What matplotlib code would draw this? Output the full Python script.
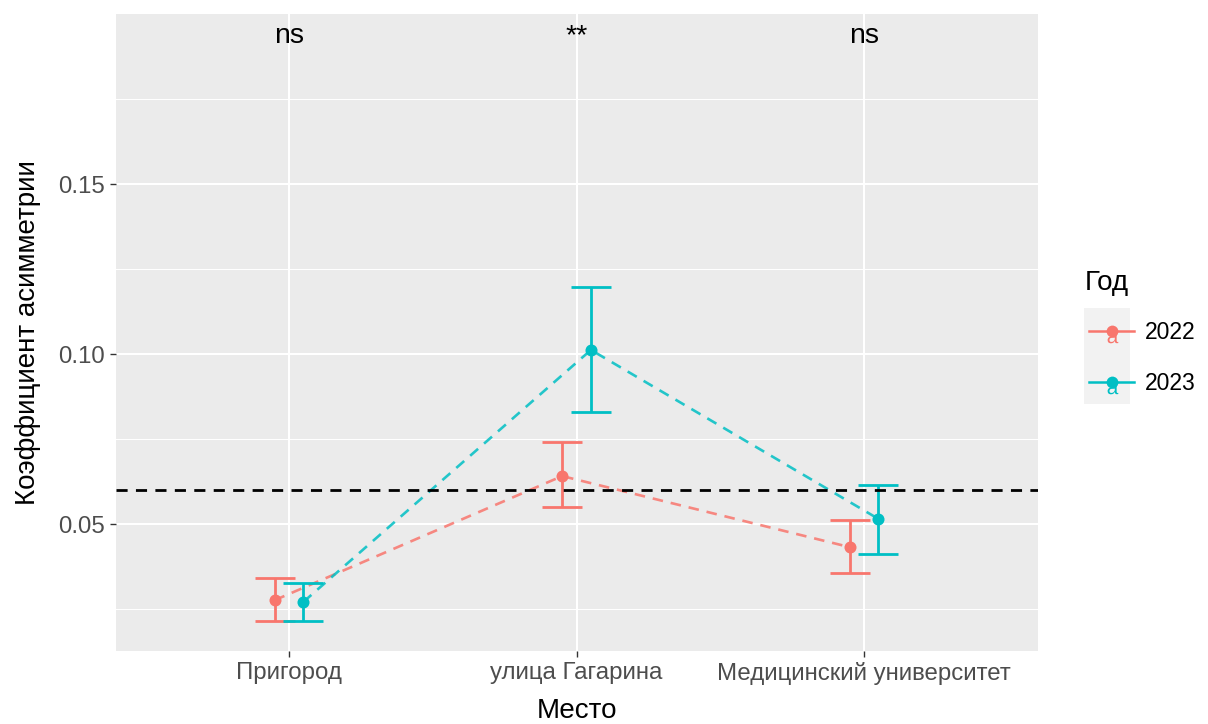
import numpy as np
import matplotlib
matplotlib.use("Agg")
import matplotlib.pyplot as plt
from matplotlib.lines import Line2D
from matplotlib.legend_handler import HandlerTuple
from matplotlib.patches import Rectangle
from matplotlib.textpath import TextPath
from matplotlib.path import Path
from matplotlib.font_manager import FontProperties

plt.rcParams['font.family'] = ['Liberation Sans', 'DejaVu Sans']

# data
places = ["Пригород", "улица Гагарина", "Медицинский университет"]
years = ["2022", "2023"]
mean_2022 = [0.0276, 0.0641, 0.0432]
low_2022 = [0.0215, 0.0550, 0.0356]
high_2022 = [0.0341, 0.0741, 0.0512]
mean_2023 = [0.0271, 0.1012, 0.0515]
low_2023 = [0.0215, 0.0829, 0.0412]
high_2023 = [0.0326, 0.1197, 0.0615]
signif = ["ns", "**", "ns"]
threshold = 0.06

colors = {"2022": "#F8766D", "2023": "#00BFC4"}
series = {
    "2022": (mean_2022, low_2022, high_2022),
    "2023": (mean_2023, low_2023, high_2023),
}
dodge = {"2022": -0.05, "2023": 0.05}

fig = plt.figure(figsize=(12.08, 7.24), dpi=100)
ax = fig.add_axes([116 / 1208, 1 - 651 / 724, (1038 - 116) / 1208, (651 - 14) / 724])
ax.set_facecolor("#EBEBEB")
for s in ax.spines.values():
    s.set_visible(False)

x = np.arange(1, len(places) + 1)
for yr in years:
    m, lo, hi = series[yr]
    m, lo, hi = np.array(m), np.array(lo), np.array(hi)
    xs = x + dodge[yr]
    ax.plot(xs, m, linestyle=(0, (4, 3)), color=colors[yr], lw=1.9, alpha=0.85, zorder=3)
    ax.errorbar(xs, m, yerr=[m - lo, hi - m], fmt="none", ecolor=colors[yr],
                elinewidth=2, capsize=14.5, capthick=2, zorder=4)
    ax.scatter(xs, m, s=75, color=colors[yr], zorder=5, linewidths=0)

ax.axhline(threshold, color="black", linestyle=(0, (4, 3)), lw=2, zorder=4)

for xi, lab in zip(x, signif):
    ax.text(xi, 0.1935, lab, ha="center", va="center", fontsize=20.5, color="black", zorder=6)

ax.set_xlim(0.398, 3.605)
ax.set_ylim(0.01265, 0.2)
ax.set_xticks(x)
ax.set_xticklabels(places)
ax.set_yticks([0.05, 0.10, 0.15])
ax.set_yticklabels(["0.05", "0.10", "0.15"])
ax.set_yticks([0.025, 0.075, 0.125, 0.175], minor=True)
ax.grid(which="major", color="white", lw=1.5, zorder=0)
ax.grid(which="minor", axis="y", color="white", lw=0.75, zorder=0)
ax.set_axisbelow(True)
ax.tick_params(axis="both", which="major", length=4, width=1, color="#333333",
               labelcolor="#4D4D4D", labelsize=17.3, pad=4)
ax.tick_params(axis="both", which="minor", length=0)

ax.set_xlabel("Место", fontsize=20, color="black", labelpad=9)
ax.set_ylabel("Коэффициент асимметрии", fontsize=20, color="black", labelpad=12)

# legend: "a" glyph sits just below the point, like the ggplot text key
tp = TextPath((0, 0), "a", prop=FontProperties(family="Liberation Sans"), size=1)
v = tp.vertices.copy()
v[:, 0] -= (v[:, 0].min() + v[:, 0].max()) / 2
v[:, 1] -= v[:, 1].max() + 0.02
a_marker = Path(v, tp.codes)

handles = []
for yr in years:
    ln = Line2D([], [], color=colors[yr], lw=1.8, marker="o", markersize=8.5, markeredgewidth=0)
    txt = Line2D([], [], color=colors[yr], lw=0, marker=a_marker, markersize=17,
                 markeredgewidth=0)
    handles.append((ln, txt))
for top in (308, 356):
    fig.patches.append(Rectangle((1084 / 1208, 1 - (top + 48) / 724), 46 / 1208, 48 / 724,
                                 transform=fig.transFigure, facecolor="#F2F2F2",
                                 edgecolor="none", zorder=0))
fig.text(1085 / 1208, 1 - 283 / 724, "Год", fontsize=20, ha="left", va="center")
leg = fig.legend(handles, years, handler_map={tuple: HandlerTuple(ndivide=1)},
                 loc="upper left", bbox_to_anchor=(1068 / 1208, 1 - 300 / 724),
                 frameon=False, fontsize=16.5,
                 handlelength=2.0, handletextpad=0.45, labelspacing=1.25)

fig.savefig("out.png", dpi=100)
